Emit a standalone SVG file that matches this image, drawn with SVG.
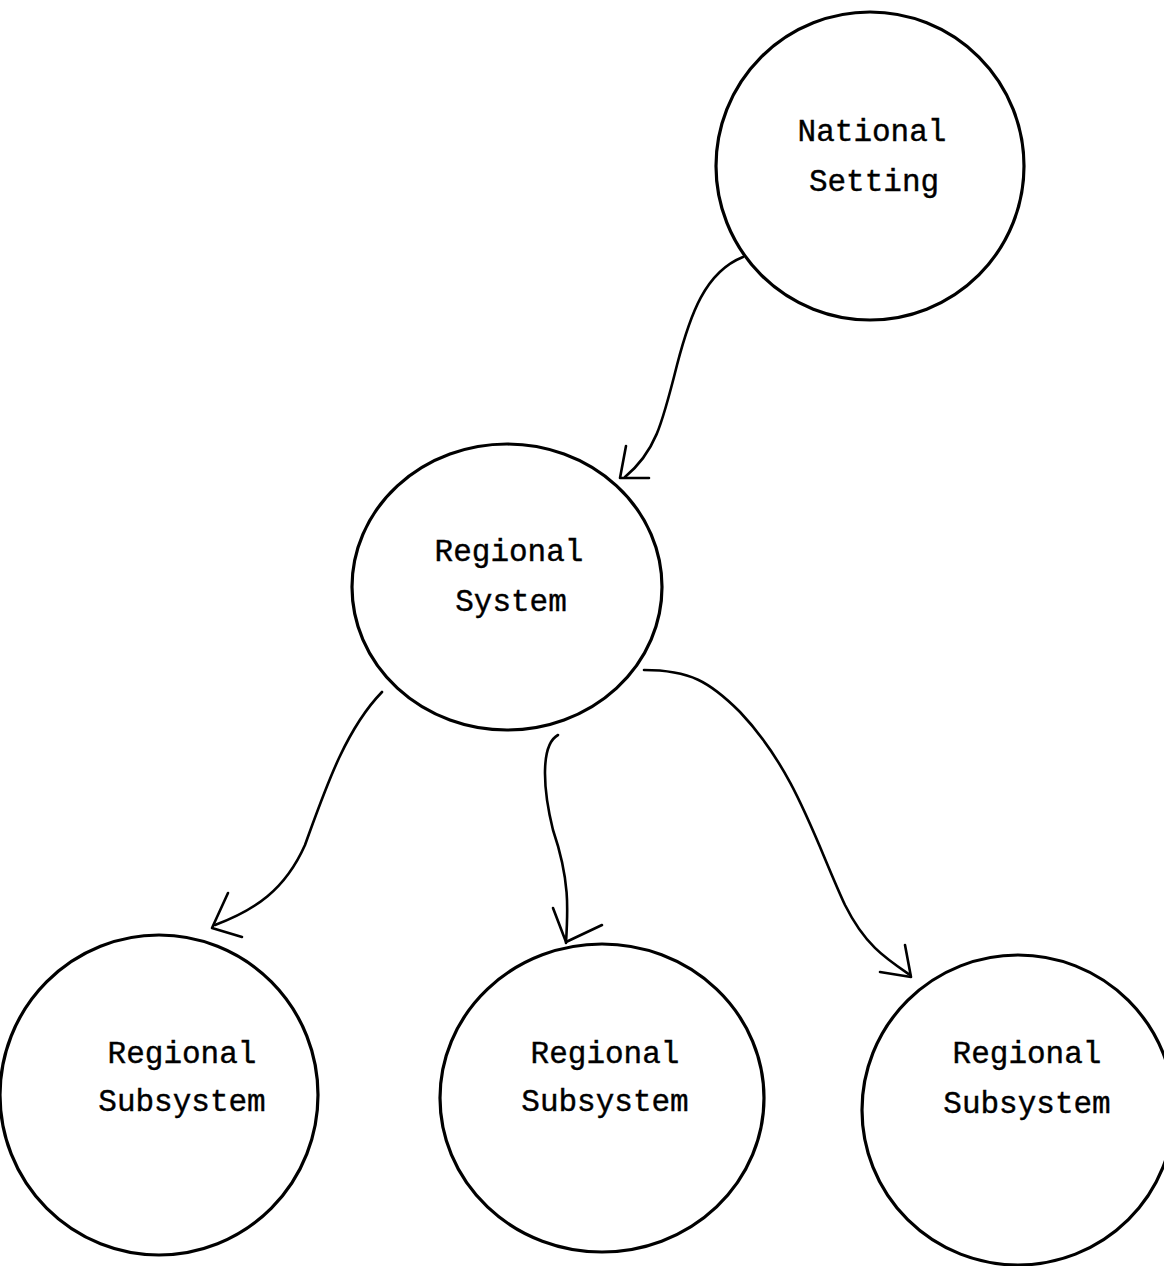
<svg xmlns="http://www.w3.org/2000/svg" width="1164" height="1266" viewBox="0 0 1164 1266">
<style>
.node{fill:none;stroke:#000;stroke-width:3.2}
.lbl{font-family:"Liberation Mono","Courier New",monospace;font-size:31px;fill:#000;text-anchor:middle;stroke:#000;stroke-width:0.4}
.edge{fill:none;stroke:#000;stroke-width:2.6;stroke-linecap:round;stroke-linejoin:round}
</style>
<rect width="1164" height="1266" fill="#fff"/>
<g id="national">
<ellipse class="node" cx="870" cy="166" rx="154" ry="154"/>
<text class="lbl" x="872" y="141">National</text>
<text class="lbl" x="874" y="191">Setting</text>
</g>
<g id="regional-system">
<ellipse class="node" cx="507" cy="587" rx="155" ry="143"/>
<text class="lbl" x="509" y="561">Regional</text>
<text class="lbl" x="511" y="611">System</text>
</g>
<g id="subsystem-1">
<ellipse class="node" cx="159" cy="1095" rx="159" ry="160"/>
<text class="lbl" x="182" y="1063">Regional</text>
<text class="lbl" x="182" y="1111">Subsystem</text>
</g>
<g id="subsystem-2">
<ellipse class="node" cx="602" cy="1098" rx="162" ry="154"/>
<text class="lbl" x="605" y="1063">Regional</text>
<text class="lbl" x="605" y="1111">Subsystem</text>
</g>
<g id="subsystem-3">
<ellipse class="node" cx="1018" cy="1110" rx="156" ry="155"/>
<text class="lbl" x="1027" y="1063">Regional</text>
<text class="lbl" x="1027" y="1113">Subsystem</text>
</g>
<g id="connectors">
<path class="edge" d="M743,257 C705,272 690,315 677,365 C662,425 655,452 625,477"/>
<path class="edge" d="M626,446 L620,478 L649,478"/>
<path class="edge" d="M382,692 C345,730 325,790 305,845 C285,890 255,910 215,925"/>
<path class="edge" d="M228,893 L212,928 L242,937"/>
<path class="edge" d="M558,735 C540,745 543,790 553,830 C570,880 568,910 566,943"/>
<path class="edge" d="M553,908 L566,942 L602,925"/>
<path class="edge" d="M644,670 C690,670 710,682 740,712 C795,770 815,840 845,905 C865,945 885,958 910,975"/>
<path class="edge" d="M905,945 L911,977 L880,972"/>
</g>
</svg>
